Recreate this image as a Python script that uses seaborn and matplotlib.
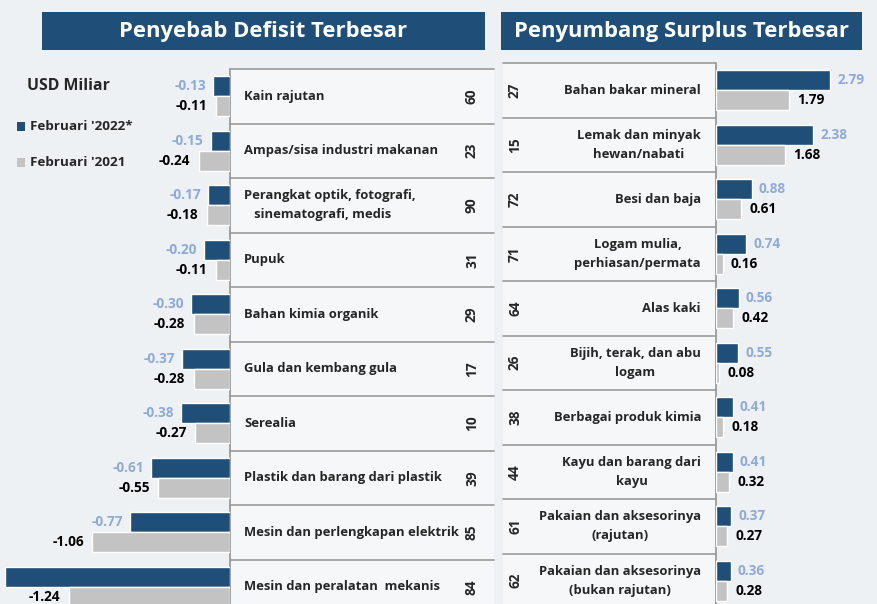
import matplotlib
matplotlib.use('Agg')
import numpy as np
import pandas as pd
import matplotlib.pyplot as plt
import seaborn as sns

# data (USD miliar)
defisit_cat = ['Kain rajutan', 'Ampas/sisa industri makanan',
               'Perangkat optik, fotografi,\n   sinematografi, medis', 'Pupuk',
               'Bahan kimia organik', 'Gula dan kembang gula', 'Serealia',
               'Plastik dan barang dari plastik', 'Mesin dan perlengkapan elektrik',
               'Mesin dan peralatan  mekanis']
defisit_hs = ['60', '23', '90', '31', '29', '17', '10', '39', '85', '84']
defisit_2022 = [-0.13, -0.15, -0.17, -0.20, -0.30, -0.37, -0.38, -0.61, -0.77, -1.73]
defisit_2021 = [-0.11, -0.24, -0.18, -0.11, -0.28, -0.28, -0.27, -0.55, -1.06, -1.24]

surplus_cat = ['Bahan bakar mineral', 'Lemak dan minyak\nhewan/nabati', 'Besi dan baja',
               'Logam mulia,\nperhiasan/permata', 'Alas kaki', 'Bijih, terak, dan abu\nlogam',
               'Berbagai produk kimia', 'Kayu dan barang dari\nkayu',
               'Pakaian dan aksesorinya\n(rajutan)', 'Pakaian dan aksesorinya\n(bukan rajutan)']
surplus_hs = ['27', '15', '72', '71', '64', '26', '38', '44', '61', '62']
surplus_2022 = [2.79, 2.38, 0.88, 0.74, 0.56, 0.55, 0.41, 0.41, 0.37, 0.36]
surplus_2021 = [1.79, 1.68, 0.61, 0.16, 0.42, 0.08, 0.18, 0.32, 0.27, 0.28]

periods = ["Februari '2022*", "Februari '2021"]
BLUE = '#1f4e79'
GRAY = '#c3c3c3'
LBLUE = '#8eaadb'

sns.set_style('white')
plt.rcParams['font.family'] = ['Open Sans', 'DejaVu Sans']
plt.rcParams['font.weight'] = 'bold'

W, H = 877, 604
fig = plt.figure(figsize=(W / 100, H / 100), dpi=100)
fig.patch.set_facecolor('#eef1f3')

# background layer in pixel coords
bg = fig.add_axes([0, 0, 1, 1], zorder=0)
bg.set_xlim(0, W)
bg.set_ylim(H, 0)
bg.set_axis_off()

ROW = 54.5
LTOP, RTOP = 69, 63
FS = 9.4


def long_df(cats, v22, v21):
    return pd.DataFrame({
        'cat': cats * 2,
        'period': [periods[0]] * len(cats) + [periods[1]] * len(cats),
        'value': v22 + v21,
    })


def bar_panel(rect, cats, v22, v21, xlim):
    ax = fig.add_axes(rect, zorder=2)
    ax.patch.set_alpha(0)
    sns.barplot(data=long_df(cats, v22, v21), x='value', y='cat', hue='period',
                order=cats, hue_order=periods, palette=[BLUE, GRAY], orient='h',
                width=0.74, gap=0, saturation=1, errorbar=None, legend=False, ax=ax)
    ax.set_xlim(*xlim)
    ax.set_ylim(len(cats) - 0.5, -0.5)
    ax.bar_label(ax.containers[0], fmt='%.2f', padding=5, color=LBLUE,
                 fontsize=9.8, fontweight='bold', clip_on=False)
    ax.bar_label(ax.containers[1], fmt='%.2f', padding=6, color='black',
                 fontsize=9.8, fontweight='bold', clip_on=False)
    ax.set_axis_off()
    return ax


bar_panel([0, (H - (LTOP + 10 * ROW)) / H, 230 / W, 10 * ROW / H],
          defisit_cat, defisit_2022, defisit_2021, (-230 / 130, 0))
bar_panel([716 / W, (H - (RTOP + 10 * ROW)) / H, 161 / W, 10 * ROW / H],
          surplus_cat, surplus_2022, surplus_2021, (0, 161 / 40.9))

# title boxes
for x0, x1, t in [(42, 485, 'Penyebab Defisit Terbesar'),
                  (501, 862, 'Penyumbang Surplus Terbesar')]:
    bg.add_patch(plt.Rectangle((x0, 12), x1 - x0, 38, color=BLUE, lw=0))
    bg.text((x0 + x1) / 2, 31, t, color='white', fontsize=15.8, fontweight='bold',
            ha='center', va='center')

# left table
LINE = '#9a9a9a'
bg.add_patch(plt.Rectangle((230, LTOP), 264, 10 * ROW, color='#f6f7f8', lw=0))
bg.plot([230, 230], [LTOP, H], color=LINE, lw=1.3)
for i in range(11):
    y = LTOP + i * ROW
    bg.plot([230, 494], [y, y], color=LINE, lw=1.2)
for i, (c, hs) in enumerate(zip(defisit_cat, defisit_hs)):
    yc = LTOP + (i + 0.5) * ROW
    bg.text(244, yc, c, fontsize=FS, fontweight='bold', ha='left', va='center',
            linespacing=1.6)
    bg.text(472, yc, hs, fontsize=FS + 0.4, fontweight='bold', ha='center', va='center',
            rotation=90)

# right table
bg.add_patch(plt.Rectangle((503, RTOP), 213, 10 * ROW, color='#f6f7f8', lw=0))
bg.plot([716, 716], [RTOP, H], color=LINE, lw=1.3)
for i in range(11):
    y = RTOP + i * ROW
    bg.plot([503, 716], [y, y], color=LINE, lw=1.2)
for i, (c, hs) in enumerate(zip(surplus_cat, surplus_hs)):
    yc = RTOP + (i + 0.5) * ROW
    bg.text(701, yc, c, fontsize=FS, fontweight='bold', ha='right', va='center',
            multialignment='center', linespacing=1.6)
    bg.text(515, yc, hs, fontsize=FS + 0.4, fontweight='bold', ha='center', va='center',
            rotation=90)

# legend
bg.text(27, 86, 'USD Miliar', fontsize=11.4, fontweight='bold', ha='left', va='center')
bg.add_patch(plt.Rectangle((17, 122), 8, 9, color=BLUE, lw=0))
bg.text(30, 127, periods[0], fontsize=9.7, fontweight='bold', ha='left', va='center')
bg.add_patch(plt.Rectangle((17, 158), 8, 9, color=GRAY, lw=0))
bg.text(30, 162, periods[1], fontsize=9.7, fontweight='bold', ha='left', va='center')

fig.savefig('out.png', dpi=100, facecolor=fig.get_facecolor())
